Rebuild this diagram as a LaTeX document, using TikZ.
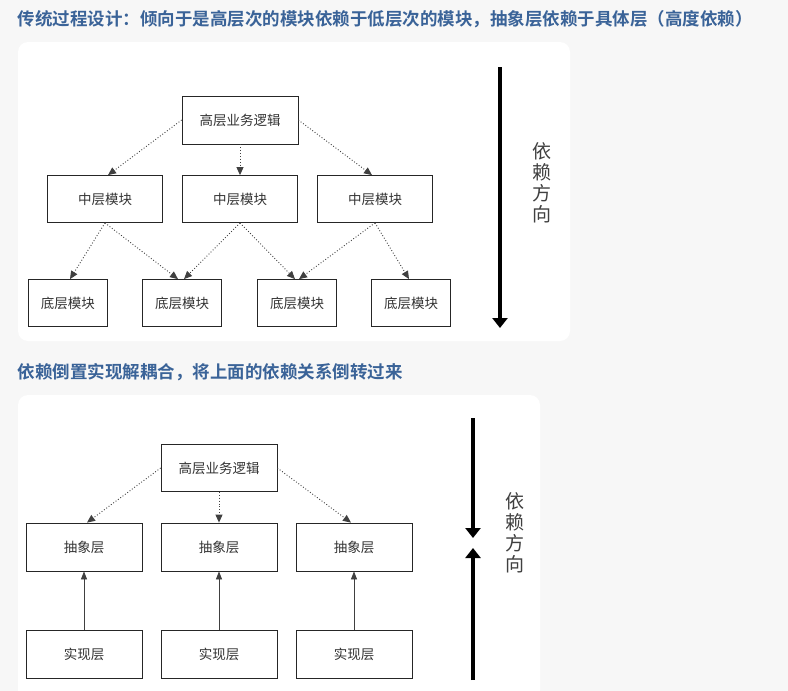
\documentclass[tikz,border=0pt]{standalone}
\usepackage{fontspec}
\setmainfont{Noto Sans CJK SC}
\newfontfamily\hfont{Noto Sans CJK SC Bold}
\usetikzlibrary{arrows.meta}
\begin{document}
\begin{tikzpicture}[x=1pt,y=-1pt,
  box/.style={draw=black!85,line width=0.8pt,fill=white,inner sep=0pt,font=\fontsize{13.5}{15}\selectfont,text=black!80},
  dep/.style={dotted,line width=0.9pt,draw=black!75,-{Triangle[length=8pt,width=7pt]}},
  impl/.style={line width=0.8pt,draw=black!75,-{Triangle[length=8pt,width=6pt]}},
  big/.style={line width=4pt,-{Triangle[length=10pt,width=15pt]}},
  hdr/.style={anchor=west,font=\hfont\fontsize{17.5}{19}\selectfont},
  vt/.style={font=\fontsize{19}{21}\selectfont,text=black!75,align=center}]
\definecolor{hb}{HTML}{3A6398}
\fill[black!3] (0,0) rectangle (788,691);
\useasboundingbox (0,0) rectangle (788,691);
\fill[white,rounded corners=10pt] (18,42) rectangle (570,341);
\fill[white,rounded corners=10pt] (18,395) rectangle (540,700);
\node[hdr,text=hb] (h1) at (14,19) {传统过程设计：倾向于是高层次的模块依赖于低层次的模块，抽象层依赖于具体层（高度依赖）};
\node[hdr,text=hb] (h2) at (14,372) {依赖倒置实现解耦合，将上面的依赖关系倒转过来};
% top diagram
\node[box,minimum width=116pt,minimum height=48pt] (t) at (240,120) {高层业务逻辑};
\foreach \n/\x in {m1/105,m2/240,m3/375}
  \node[box,minimum width=115pt,minimum height=47pt] (\n) at (\x,199) {中层模块};
\foreach \n/\x in {b1/68,b2/182,b3/297,b4/411}
  \node[box,minimum width=79pt,minimum height=47pt] (\n) at (\x,303) {底层模块};
\draw[dep] (t.west) -- ([xshift=3pt]m1.north);
\draw[dep] (t.south) -- (m2.north);
\draw[dep] (t.east) -- ([xshift=-3pt]m3.north);
\draw[dep] (m1.south) -- ([xshift=2pt]b1.north);
\draw[dep] (m1.south) -- ([xshift=-4pt]b2.north);
\draw[dep] (m2.south) -- ([xshift=2pt]b2.north);
\draw[dep] (m2.south) -- ([xshift=-2pt]b3.north);
\draw[dep] (m3.south) -- ([xshift=2pt]b3.north);
\draw[dep] (m3.south) -- ([xshift=-2pt]b4.north);
\coordinate (a1) at (500,67);
\coordinate (a2) at (500,328);
\draw[big] (a1) -- (a2);
\node[vt] (v1) at (542,183) {依\\赖\\方\\向};
% bottom diagram
\node[box,minimum width=116pt,minimum height=47pt] (T) at (219,468) {高层业务逻辑};
\foreach \i/\x in {1/84,2/219,3/354}{
  \node[box,minimum width=116pt,minimum height=48pt] (A\i) at (\x,547) {抽象层};
  \node[box,minimum width=116pt,minimum height=48pt] (R\i) at (\x,654) {实现层};
  \draw[impl] (R\i.north) -- (A\i.south);}
\draw[dep] (T.west) -- ([xshift=3pt]A1.north);
\draw[dep] (T.south) -- (A2.north);
\draw[dep] (T.east) -- ([xshift=-3pt]A3.north);
\coordinate (d1) at (473,418);
\coordinate (d2) at (473,538);
\coordinate (u1) at (473,680);
\coordinate (u2) at (473,548);
\draw[big] (d1) -- (d2);
\draw[big] (u1) -- (u2);
\node[vt] (v2) at (515,533) {依\\赖\\方\\向};
\end{tikzpicture}
\end{document}
